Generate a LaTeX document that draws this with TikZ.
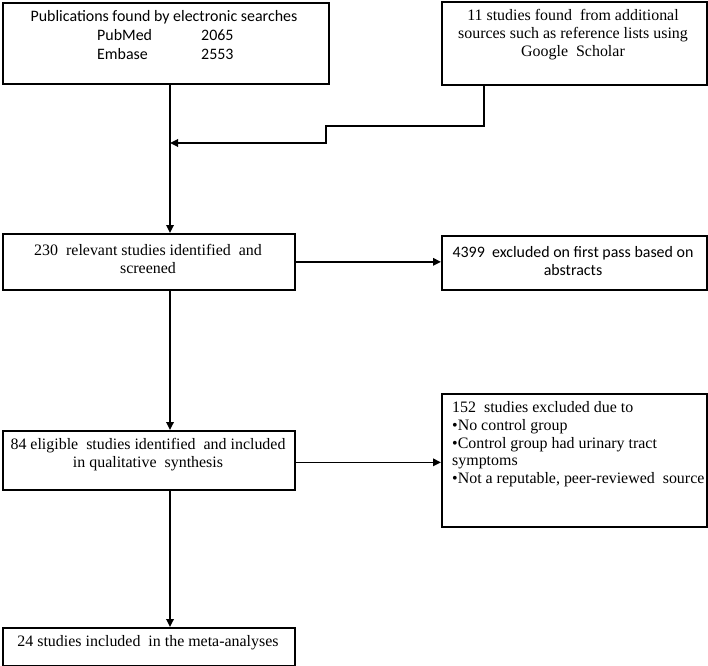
\documentclass[tikz,border=0pt]{standalone}
\usepackage{fontspec}
\setmainfont{Liberation Serif}
\newfontfamily\calib{Carlito}
\usetikzlibrary{arrows.meta}
\begin{document}
\begin{tikzpicture}[x=1bp,y=-1bp,
  box/.style={draw=black, line width=1.7bp, rectangle, inner sep=0pt, anchor=north west},
  conn/.style={draw=black, line width=1.7bp},
  arr/.style={conn, -{Triangle[length=8bp,width=7.5bp]}},
  txt/.style={font=\fontsize{16}{18}\selectfont, inner sep=0pt, align=center},
  ctxt/.style={font=\calib\fontsize{16}{18.5}\selectfont, inner sep=0pt, align=center}
]
\useasboundingbox (0,0) rectangle (708,666);
% boxes
\node[box, minimum width=326bp, minimum height=81bp] (b1) at (2,2) {};
\node[box, minimum width=265bp, minimum height=83bp] (b2) at (441,1) {};
\node[box, minimum width=292bp, minimum height=56bp] (b3) at (2,233) {};
\node[box, minimum width=265bp, minimum height=54bp] (b4) at (441,235) {};
\node[box, minimum width=292bp, minimum height=59bp] (b5) at (2,430) {};
\node[box, minimum width=265bp, minimum height=133bp] (b6) at (441,393) {};
\node[box, minimum width=292bp, minimum height=38bp] (b7) at (2,627) {};
% texts
\node[ctxt] (t1a) at (164,17) {Publications found by electronic searches};
\node[ctxt, anchor=west] (t1b) at (97,35) {PubMed};
\node[ctxt, anchor=west] (t1c) at (201,35) {2065};
\node[ctxt, anchor=west] (t1d) at (97,54) {Embase};
\node[ctxt, anchor=west] (t1e) at (201,54) {2553};
\node[txt] (t2) at (573,35) {11 studies found \ from additional\\sources such as reference lists using\\Google \ Scholar};
\node[txt] (t3) at (148,258.5) {230 \ relevant studies identified \ and\\screened};
\node[ctxt] (t4) at (573,261) {4399 \ excluded on first pass based on\\abstracts};
\node[txt] (t5) at (148,455) {84 eligible \ studies identified \ and included\\in qualitative \ synthesis};
\node[txt, anchor=north west, align=left, font=\fontsize{16}{17.8}\selectfont] (t6) at (452,401.5)
  {152 \ studies excluded due to\\\textbullet No control group\\\textbullet Control group had urinary tract\\symptoms\\\textbullet Not a reputable, peer-reviewed \ source};
\node[txt] (t7) at (148,643) {24 studies included \ in the meta-analyses};
% connectors
\coordinate (e1) at (326,126);
\coordinate (e2) at (326,143);
\coordinate (m) at (170,143);
\draw[arr] ([xshift=168bp]b1.south west) -- ([xshift=168bp]b3.north west);
\draw[arr] ([xshift=43bp]b2.south west) |- (e1) -- (e2) -- (m);
\draw[arr] (b3.east) -- (b3.east -| b4.west);
\draw[arr] ([yshift=-2bp]b5.east) -- ([yshift=-2bp]b5.east -| b6.west);
\draw[arr] ([xshift=168bp]b3.south west) -- ([xshift=168bp]b5.north west);
\draw[arr] ([xshift=168bp]b5.south west) -- ([xshift=168bp]b7.north west);
\end{tikzpicture}
\end{document}
